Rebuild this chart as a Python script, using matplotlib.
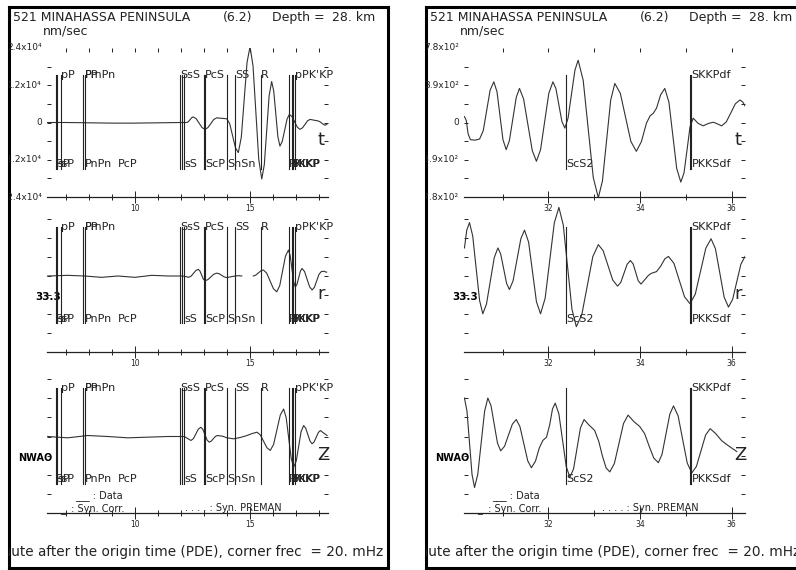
import numpy as np
import matplotlib
matplotlib.use('Agg')
from matplotlib import pyplot as plt

plt.rcParams['font.family'] = 'DejaVu Sans'

W = 796.0
H = 570.0

# header / footer text
title_a = '521 MINAHASSA PENINSULA'
title_b = '(6.2)'
title_c = 'Depth ='
title_d = '28. km'
units = 'nm/sec'
footer = 'Time in minute after the origin time (PDE), corner frec  = 20. mHz'
station = 'NWAO'
distance = '33.3'
comps = ['t', 'r', 'Z']

# ---------------- left panel (minutes after origin) ----------------
xlimL = (6.17, 18.39)
majorL = [10, 15]
minorL = [7, 8, 9, 11, 12, 13, 14, 16, 17, 18]
ylimL = 2.4e4
ylabL = ['2.4x10⁴', '1.2x10⁴', '0', '-1.2x10⁴', '-2.4x10⁴']

# transverse
tLt = [6.17, 7.0, 8.0, 9.0, 10.0, 11.0, 12.0, 12.25, 12.32, 12.39, 12.46, 12.53,
       12.655, 12.785, 12.91, 13.04, 13.165, 13.295, 13.42, 13.55, 13.77, 13.99,
       14.115, 14.24, 14.365, 14.49, 14.62, 14.745, 14.87, 15.0, 15.13, 15.255,
       15.38, 15.51, 15.62, 15.725, 15.83, 15.94, 16.03, 16.12, 16.21, 16.30,
       16.40, 16.505, 16.61, 16.71, 16.825, 16.94, 17.055, 17.17, 17.28, 17.39,
       17.50, 17.61, 17.78, 17.96, 18.05, 18.15, 18.26, 18.39]
vLt = [0, 0, -100, -200, -200, -100, 0, 0, 260, 900, 1540, 1800,
       1216, -200, -1616, -2200, -1660, -350, 960, 1500, 1350, 1200,
       -390, -4250, -8110, -9700, -4720, 7350, 19420, 24400, 18180, 3100,
       -11980, -18200, -13620, -2500, 8620, 13200, 10160, 2800, -4560, -7600,
       -6110, -2500, 1110, 2600, 1900, 200, -1500, -2200, -1730, -600,
       530, 1000, 750, 500, 200, -400, -900, -300]

# radial (gap in the record)
tLr = [6.20, 7.07, 7.80, 8.54, 9.26, 9.99, 10.72, 11.45, 12.04, 12.18, 12.33,
       12.435, 12.54, 12.645, 12.75, 12.82, 12.895, 12.97, 13.04, 13.165, 13.295,
       13.42, 13.55, 13.66, 13.77, 13.88, 13.99, 14.17, 14.35, 14.50, 14.64,
       14.65, 15.13, 15.14, 15.25, 15.36, 15.47, 15.58, 15.725, 15.87, 16.015,
       16.16, 16.29, 16.415, 16.54, 16.67, 16.745, 16.82, 16.895, 16.97, 17.04,
       17.115, 17.19, 17.26, 17.37, 17.48, 17.59, 17.70, 17.80, 17.90, 18.00,
       18.10, 18.20, 18.33]
vLr = [0, 210, 0, -420, 0, -420, 210, 0, 0, -150, -420,
       -52, 840, 1732, 2100, 1574, 300, -974, -1500, -1150, -300,
       550, 900, 700, 200, -300, -500, -250, 0, 100, 0,
       np.nan, np.nan, 0, 280, 950, 1620, 1900, 890, -1550, -3990,
       -5000, -3070, 1600, 6270, 8200, 6490, 2350, -1790, -3500, -2640,
       -550, 1540, 2400, 1410, -1000, -3410, -4400, -3550, -1500, 550,
       1400, 1500, 1200]

# vertical
tLz = [6.20, 7.07, 7.94, 8.81, 9.68, 10.55, 11.42, 12.14, 12.28, 12.43, 12.54,
       12.645, 12.75, 12.86, 12.95, 13.04, 13.13, 13.22, 13.31, 13.40, 13.49,
       13.58, 13.80, 14.00, 14.29, 14.58, 14.87, 15.08, 15.30, 15.445, 15.59,
       15.735, 15.88, 16.025, 16.17, 16.315, 16.46, 16.57, 16.68, 16.79, 16.90,
       17.01, 17.115, 17.22, 17.33, 17.42, 17.515, 17.61, 17.70, 17.79, 17.88,
       17.97, 18.06, 18.20, 18.35]
vLz = [0, -416, 312, 0, -416, -208, 0, 0, -600, -1250, -644,
       825, 2294, 2900, 2218, 565, -1088, -1770, -1466, -730, 6,
       310, 100, -420, -730, -300, 310, 900, 1350, 515, -1510,
       -3535, -4370, -2472, 2130, 6732, 8630, 5973, -470, -6913, -9570,
       -7672, -3070, 1532, 3430, 2595, 570, -1455, -2290, -1683, -210,
       1263, 1870, 1100, 310]

phaseL = [6.565, 6.62, 6.77, 7.75, 7.81, 11.96, 12.04, 12.13, 13.0, 13.04, 13.99,
          14.36, 15.48, 16.71, 16.81, 16.88, 16.96]
topL_t = [6.77, 7.81, 7.81, 11.96, 13.04, 14.36, 15.48, 16.96]
topL_s = ['pP', 'PmPn', 'PP', 'SsS', 'PcS', 'SS', 'R', "pPK'KP"]
botL_t = [6.565, 6.62, 7.81, 9.27, 12.13, 13.04, 13.99, 16.71, 16.81, 16.88]
botL_s = ['PsP', 'sP', 'PnPn', 'PcP', 'sS', 'ScP', 'SnSn', 'PKiKP', 'SKKP', 'PKKP']

# ---------------- right panel ----------------
xlimR = (30.16, 36.29)
majorR = [32, 34, 36]
minorR = [31, 33, 35]
ylimR = 780
ylabR = ['7.8x10²', '3.9x10²', '0', '-3.9x10²', '-7.8x10²']

tRt = [30.17, 30.21, 30.25, 30.30, 30.40, 30.50, 30.58, 30.655, 30.73, 30.81,
       30.88, 30.945, 31.01, 31.08, 31.15, 31.225, 31.30, 31.37, 31.46, 31.555,
       31.65, 31.74, 31.83, 31.92, 32.01, 32.10, 32.165, 32.23, 32.295, 32.36,
       32.43, 32.505, 32.58, 32.65, 32.76, 32.87, 32.98, 33.09, 33.18, 33.27,
       33.36, 33.45, 33.57, 33.685, 33.80, 33.92, 34.03, 34.14, 34.22, 34.29,
       34.36, 34.45, 34.54, 34.63, 34.715, 34.80, 34.89, 34.96, 35.025, 35.09,
       35.16, 35.27, 35.38, 35.49, 35.60, 35.69, 35.78, 35.88, 35.98, 36.08,
       36.18, 36.24, 36.29]
vRt = [62, 20, -120, -180, -185, -173, -86, 127, 339, 426,
       322, 71, -180, -284, -190, 37, 263, 357, 246, -25,
       -295, -406, -285, 10, 305, 426, 355, 184, 12, -59,
       45, 297, 548, 652, 442, -68, -577, -787, -612, -189,
       234, 409, 305, 54, -198, -302, -200, -7, 70, 97,
       150, 290, 357, 214, -134, -481, -624, -526, -290, -47,
       45, -10, -35, -10, 3, -15, -35, 5, 100, 196,
       236, 215, 173]

tRr = [30.17, 30.22, 30.28, 30.35, 30.425, 30.50, 30.57, 30.65, 30.735, 30.82,
       30.90, 30.96, 31.025, 31.09, 31.15, 31.23, 31.315, 31.40, 31.48, 31.57,
       31.655, 31.74, 31.83, 31.93, 32.03, 32.13, 32.23, 32.325, 32.42, 32.515,
       32.61, 32.73, 32.85, 32.97, 33.09, 33.195, 33.30, 33.405, 33.51, 33.58,
       33.65, 33.72, 33.79, 33.85, 33.905, 33.96, 34.02, 34.10, 34.18, 34.25,
       34.36, 34.45, 34.54, 34.62, 34.74, 34.855, 34.97, 35.09, 35.205, 35.32,
       35.435, 35.55, 35.645, 35.74, 35.835, 35.93, 36.02, 36.11, 36.20, 36.29]
vRr = [288, 470, 548, 411, 80, -251, -388, -289, -50, 189,
       288, 226, 75, -77, -139, -50, 166, 382, 471, 346,
       42, -263, -388, -229, 158, 545, 704, 525, 92, -341,
       -520, -397, -99, 199, 322, 260, 109, -42, -104, -66,
       28, 121, 159, 124, 38, -48, -83, -40, 5, 28,
       45, 100, 175, 201, 130, -42, -213, -284, -187, 49,
       285, 382, 280, 32, -217, -319, -240, -60, 120, 201]

tRz = [30.17, 30.225, 30.28, 30.335, 30.39, 30.46, 30.535, 30.61, 30.68, 30.75,
       30.82, 30.89, 30.96, 31.045, 31.13, 31.215, 31.30, 31.38, 31.465, 31.55,
       31.63, 31.72, 31.80, 31.88, 31.96, 32.03, 32.09, 32.15, 32.23, 32.31,
       32.39, 32.47, 32.55, 32.625, 32.70, 32.78, 32.88, 33.01, 33.10, 33.18,
       33.26, 33.34, 33.44, 33.54, 33.64, 33.74, 33.87, 33.99, 34.10, 34.20,
       34.30, 34.40, 34.48, 34.565, 34.65, 34.73, 34.83, 34.93, 35.03, 35.13,
       35.23, 35.33, 35.43, 35.53, 35.65, 35.78, 35.90, 36.00, 36.11]
vRz = [392, 259, -64, -387, -520, -387, -64, 259, 392, 313,
       123, -67, -146, -99, 14, 126, 173, 101, -73, -247,
       -319, -250, -120, -40, -7, 120, 280, 340, 230, -38,
       -306, -416, -330, -122, 87, 173, 120, 62, -50, -200,
       -320, -361, -276, -72, 133, 218, 150, 104, 30, -100,
       -220, -267, -182, 23, 227, 312, 212, -30, -271, -371,
       -305, -146, 14, 80, 30, -42, -85, -118, -153]

phaseR = [32.38, 35.08, 35.12]
topR_t = [35.12]
topR_s = ['SKKPdf']
botR_t = [32.40, 35.14]
botR_s = ['ScS2', 'PKKSdf']

legend_a = '___ : Data'
legend_b = '_  : Syn. Corr.'
legend_c = '. . . . : Syn. PREMAN'

ink = '#222222'
rows = [(48, 197), (200, 352), (360, 513)]

fig = plt.figure(figsize=(7.96, 5.70), dpi=100)


def box(x0, y0, x1, y1):
    return [x0 / W, 1 - y1 / H, (x1 - x0) / W, (y1 - y0) / H]


def draw_panel(p0, xlim, major, minor, traces, phases, tops, bots, ylab, ylim):
    frame = fig.add_axes(box(p0, 7, p0 + 379, 568))
    frame.set_xticks([])
    frame.set_yticks([])
    for s in frame.spines.values():
        s.set_linewidth(2.2)
    frame.set_zorder(0)

    def ptext(x, y, s, **kw):
        # x, y in pixels relative to the panel corner
        return frame.text(x / 379, 1 - y / 561, s, transform=frame.transAxes,
                          clip_on=True, color=ink, **kw)

    ptext(4, 14, title_a, fontsize=9, va='baseline')
    ptext(214, 14, title_b, fontsize=9, va='baseline')
    ptext(263, 14, title_c, fontsize=9, va='baseline')
    ptext(323, 14, title_d, fontsize=9, va='baseline')
    ptext(34, 28, units, fontsize=9, va='baseline')
    ptext(374, 549, footer, fontsize=9.8, va='baseline', ha='right')

    for i, (y0, y1) in enumerate(rows):
        ax = fig.add_axes(box(p0 + 38, y0, p0 + 319, y1))
        ax.set_zorder(1)
        ax.set_facecolor('none')
        ax.set_xlim(xlim)
        ax.set_ylim(-ylim, ylim)
        for s in ['top', 'left', 'right']:
            ax.spines[s].set_visible(False)
        ax.spines['bottom'].set_linewidth(0.9)
        ax.spines['bottom'].set_color(ink)
        ax.set_xticks(major)
        ax.set_xticklabels([str(m) for m in major])
        ax.set_xticks(minor, minor=True)
        ax.tick_params(axis='x', which='major', direction='inout', length=8, width=0.7,
                       labelsize=5.5, pad=1, colors=ink)
        ax.tick_params(axis='x', which='minor', direction='inout', length=4, width=0.7,
                       colors=ink)
        if i == 0:
            sec = ax.secondary_xaxis('top')
            sec.set_xticks(major)
            sec.set_xticks(minor, minor=True)
            sec.tick_params(which='both', direction='in', length=3, width=0.7,
                            labeltop=False, colors=ink)
            sec.spines['top'].set_visible(False)
        ax.set_yticks([-0.75 * ylim, -0.5 * ylim, -0.25 * ylim, 0,
                       0.25 * ylim, 0.5 * ylim, 0.75 * ylim])
        ax.tick_params(axis='y', direction='in', length=3, width=0.7, left=True,
                       right=True, labelleft=False, colors=ink)

        t, v = traces[i]
        ax.plot(t, v, color='#333333', lw=0.8)

        for ph in phases:
            ax.axvline(ph, ymin=0.19, ymax=0.82, color=ink, lw=0.8)
        trans = ax.get_xaxis_transform()
        for tt, ss in zip(*tops):
            frame.text(tt, 0.80, ss, transform=trans, fontsize=8, color=ink,
                       va='baseline', clip_on=True)
        for tt, ss in zip(*bots):
            frame.text(tt, 0.20, ss, transform=trans, fontsize=8, color=ink,
                       va='baseline', clip_on=True)

        frame.text(0.962, 0.38, comps[i], transform=ax.transAxes, fontsize=13,
                   color=ink, va='center', clip_on=True)

        if i == 0:
            for k, lab in enumerate(ylab):
                frame.text(-0.018, 1 - k * 0.25, lab, transform=ax.transAxes,
                           fontsize=6.5, color=ink, ha='right', va='center',
                           clip_on=True)
        if i == 1:
            frame.text(0.05, 0.36, distance, transform=ax.transAxes, fontsize=7.5,
                       color='black', fontweight='bold', ha='right', va='center',
                       clip_on=True)
        if i == 2:
            frame.text(0.02, 0.36, station, transform=ax.transAxes, fontsize=7,
                       color='black', fontweight='bold', ha='right', va='center',
                       clip_on=True)
            frame.text(0.10, 0.098, legend_a, transform=ax.transAxes, fontsize=7,
                       color=ink, va='baseline', clip_on=True)
            frame.text(0.046, 0.01, legend_b, transform=ax.transAxes, fontsize=7,
                       color=ink, va='baseline', clip_on=True)
            frame.text(0.49, 0.01, legend_c, transform=ax.transAxes, fontsize=7,
                       color=ink, va='baseline', clip_on=True)


draw_panel(9, xlimL, majorL, minorL, [(tLt, vLt), (tLr, vLr), (tLz, vLz)],
           phaseL, (topL_t, topL_s), (botL_t, botL_s), ylabL, ylimL)
draw_panel(426, xlimR, majorR, minorR, [(tRt, vRt), (tRr, vRr), (tRz, vRz)],
           phaseR, (topR_t, topR_s), (botR_t, botR_s), ylabR, ylimR)

fig.savefig('out.png', dpi=100)
